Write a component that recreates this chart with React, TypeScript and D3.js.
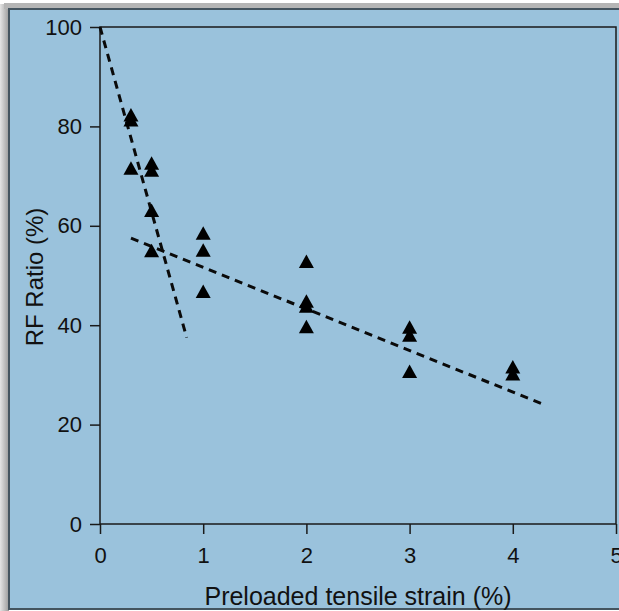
import * as d3 from "d3";
import { useEffect, useRef } from "react";

// values
const strainX = [0.3, 0.3, 0.3, 0.5, 0.5, 0.5, 0.5, 1, 1, 1, 2, 2, 2, 2, 3, 3, 3, 4, 4];
const rfRatio = [82.3, 81.3, 71.6, 72.6, 71.2, 63.1, 55, 58.5, 55.1, 46.8, 52.8, 44.8, 43.8, 39.7, 39.6, 38.0, 30.7, 31.6, 30.2];

const fitSteepX = [0, 0.84];
const fitSteepY = [100, 37.5];
const fitShallowX = [0.3, 4.28];
const fitShallowY = [57.5, 24.2];

const xTicks = [0, 1, 2, 3, 4, 5];
const yTicks = [0, 20, 40, 60, 80, 100];

export default function App() {
    const ref = useRef<SVGSVGElement>(null);

    useEffect(() => {
        const svg = d3.select(ref.current);
        svg.selectAll("*").remove();

        const width = 619,
            height = 611;

        const x = d3.scaleLinear().domain([0, 5]).range([100, 616]);
        const y = d3.scaleLinear().domain([0, 100]).range([524, 27]);

        // page / frame
        svg.append("rect").attr("width", width).attr("height", height).attr("fill", "#ffffff");
        const grad = svg.append("defs").append("linearGradient").attr("id", "shade");
        grad.append("stop").attr("offset", "0%").attr("stop-color", "#e4e4e4");
        grad.append("stop").attr("offset", "100%").attr("stop-color", "#9a9a9a");
        svg.append("rect").attr("x", 0).attr("y", 4).attr("width", 9).attr("height", height)
            .attr("fill", "url(#shade)");
        svg.append("rect").attr("x", 4).attr("y", 3).attr("width", width).attr("height", 6)
            .attr("fill", "#b5b5b5");
        svg.append("rect")
            .attr("x", 9).attr("y", 9).attr("width", 630).attr("height", 600)
            .attr("fill", "#9ac2dc").attr("stroke", "#44545f").attr("stroke-width", 2);

        const font = "'Liberation Sans', Arial, sans-serif";

        // box
        svg.append("rect")
            .attr("x", x(0)).attr("y", y(100))
            .attr("width", x(5) - x(0)).attr("height", y(0) - y(100))
            .attr("fill", "none").attr("stroke", "#1a1a1a").attr("stroke-width", 1.5);

        // axes
        const xAxis = d3.axisBottom(x).tickValues(xTicks).tickSize(10).tickPadding(13)
            .tickFormat(d3.format("d"));
        const gx = svg.append("g").attr("transform", `translate(0, ${y(0)})`).call(xAxis);
        gx.select(".domain").remove();

        const yAxis = d3.axisLeft(y).tickValues(yTicks).tickSize(10).tickPadding(8)
            .tickFormat(d3.format("d"));
        const gy = svg.append("g").attr("transform", `translate(${x(0)}, 0)`).call(yAxis);
        gy.select(".domain").remove();

        svg.selectAll(".tick line").attr("stroke", "#1a1a1a").attr("stroke-width", 1.5);
        svg.selectAll(".tick text")
            .attr("font-family", font).attr("font-size", 22).attr("fill", "#111");

        // axis titles
        svg.append("text")
            .attr("x", (x(0) + x(5)) / 2).attr("y", 605)
            .attr("text-anchor", "middle")
            .attr("font-family", font).attr("font-size", 25).attr("fill", "#111")
            .text("Preloaded tensile strain (%)");

        svg.append("text")
            .attr("transform", "translate(43, 277) rotate(-90)")
            .attr("text-anchor", "middle")
            .attr("font-family", font).attr("font-size", 24).attr("fill", "#111")
            .text("RF Ratio (%)");

        // fitted dashed lines
        const drawFit = (xs: number[], ys: number[]) => {
            const l = d3.line<number>()
                .x((d) => x(d))
                .y((d, i) => y(ys[i]));
            svg.append("path")
                .datum(xs)
                .attr("d", l)
                .attr("fill", "none")
                .attr("stroke", "#0a0a0a")
                .attr("stroke-width", 3)
                .attr("stroke-dasharray", "8,6");
        };
        drawFit(fitSteepX, fitSteepY);
        drawFit(fitShallowX, fitShallowY);

        // triangles
        const tri = (cx: number, cy: number) =>
            `M${cx},${cy - 7}L${cx + 7.5},${cy + 6.5}L${cx - 7.5},${cy + 6.5}Z`;
        svg.append("g")
            .selectAll("path")
            .data(rfRatio)
            .join("path")
            .attr("d", (d, i) => tri(x(strainX[i]), y(d)))
            .attr("fill", "#000");
    }, []);

    return (
        <svg
            ref={ref}
            width={619}
            height={611}
            style={{ position: "absolute", left: 0, top: 0 }}
        ></svg>
    );
}
